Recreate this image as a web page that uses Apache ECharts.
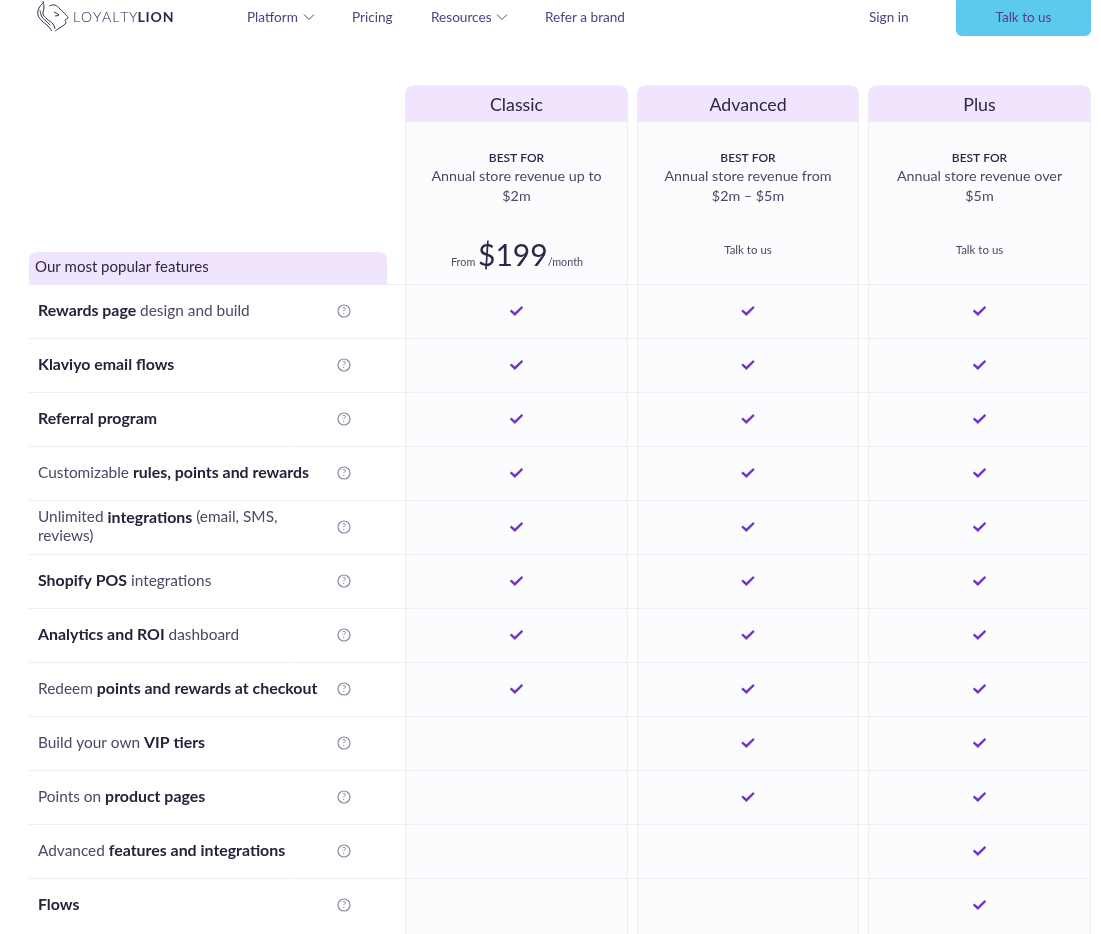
<!DOCTYPE html>
<html>
<head>
<meta charset="utf-8">
<title>LoyaltyLion pricing</title>
<style>
  html, body { margin: 0; padding: 0; background: #fff; }
  #chart { width: 1101px; height: 934px; }
</style>
<script src="https://cdn.jsdelivr.net/npm/echarts@6/dist/echarts.min.js"></script>
</head>
<body>
<div id="chart"></div>
<script>
// table content
const plans = ['Classic', 'Advanced', 'Plus'];
const bestFor = [
  'Annual store revenue up to\n$2m',
  'Annual store revenue from\n$2m – $5m',
  'Annual store revenue over\n$5m'
];
const features = [
  '{b|Rewards page}{r| design and build}',
  '{b|Klaviyo email flows}',
  '{b|Referral program}',
  '{r|Customizable }{b|rules, points and rewards}',
  '{r|Unlimited }{b|integrations}{r| (email, SMS,}\n{r|reviews)}',
  '{b|Shopify POS}{r| integrations}',
  '{b|Analytics and ROI}{r| dashboard}',
  '{r|Redeem }{b|points and rewards at checkout}',
  '{r|Build your own }{b|VIP tiers}',
  '{r|Points on }{b|product pages}',
  '{r|Advanced }{b|features and integrations}',
  '{b|Flows}'
];
const classicHas  = [1, 1, 1, 1, 1, 1, 1, 1, 0, 0, 0, 0];
const advancedHas = [1, 1, 1, 1, 1, 1, 1, 1, 1, 1, 0, 0];
const plusHas     = [1, 1, 1, 1, 1, 1, 1, 1, 1, 1, 1, 1];
const navItems = [['Platform', 247], ['Pricing', 352], ['Resources', 431], ['Refer a brand', 545], ['Sign in', 869]];
const navChevrons = [309, 502];

const FONT = 'Lato';
const TOP = 284, ROW = 54;
const COL_LEFT = [405.5, 637.5, 868.5], COL_W = [222, 221, 222];
const ink = '#2b2746', soft = '#4c4866', line = '#eceef2', lilac = '#f1e4fd', panel = '#fbfcfe';

const colCenter = i => COL_LEFT[i] + COL_W[i] / 2;

// one point per ticked cell
const checks = [];
[classicHas, advancedHas, plusHas].forEach((has, c) => {
  has.forEach((v, r) => { if (v) checks.push([c, r]); });
});

const graphics = [];

// plan columns
plans.forEach((p, i) => {
  graphics.push({
    type: 'rect', z: -10,
    shape: { x: COL_LEFT[i], y: 86, width: COL_W[i], height: 860, r: 8 },
    style: { fill: panel, stroke: line, lineWidth: 1 }
  });
  graphics.push({
    type: 'rect', z: -9,
    shape: { x: COL_LEFT[i], y: 85.5, width: COL_W[i], height: 36.5, r: [8, 8, 0, 0] },
    style: { fill: lilac }
  });
  graphics.push({
    type: 'text', z: 5, x: colCenter(i), y: 158,
    style: { text: 'BEST FOR', font: '600 12px ' + FONT, fill: ink, align: 'center', verticalAlign: 'middle' }
  });
  graphics.push({
    type: 'text', z: 5, x: colCenter(i), y: 186,
    style: { text: bestFor[i], font: '14.3px ' + FONT, fill: soft, align: 'center', verticalAlign: 'middle', lineHeight: 20 }
  });
  if (i > 0) {
    graphics.push({
      type: 'text', z: 5, x: colCenter(i), y: 250,
      style: { text: 'Talk to us', font: '11.5px ' + FONT, fill: soft, align: 'center', verticalAlign: 'middle' }
    });
  }
});

// price
graphics.push({
  type: 'text', z: 5, x: colCenter(0) + 0.5, y: 256,
  style: {
    text: '{s|From }{p|$199}{s|/month}',
    align: 'center', verticalAlign: 'middle',
    rich: {
      s: { font: '10.8px ' + FONT, fill: soft, padding: [14, 0, 0, 0] },
      p: { font: '30px ' + FONT, fill: ink }
    }
  }
});

// row rules
for (let r = 0; r < features.length; r++) {
  graphics.push({
    type: 'line', z: -5,
    shape: { x1: 29, y1: TOP + r * ROW + 0.5, x2: 1090.5, y2: TOP + r * ROW + 0.5 },
    style: { stroke: line, lineWidth: 1 }
  });
}

// left tab
graphics.push({
  type: 'rect', z: -4,
  shape: { x: 29, y: 252, width: 358, height: 32.5, r: [8, 8, 0, 0] },
  style: { fill: lilac }
});
graphics.push({
  type: 'text', z: 5, x: 35, y: 267,
  style: { text: 'Our most popular features', font: '15px ' + FONT, fill: ink, verticalAlign: 'middle' }
});

// top nav
navItems.forEach(n => {
  graphics.push({
    type: 'text', x: n[1], y: 17.5,
    style: { text: n[0], font: '13.6px ' + FONT, fill: '#55417f', verticalAlign: 'middle' }
  });
});
navChevrons.forEach(x => {
  graphics.push({
    type: 'polyline',
    shape: { points: [[x - 5, 14.5], [x, 19.5], [x + 5, 14.5]] },
    style: { stroke: '#55417f', lineWidth: 1, fill: null }
  });
});
graphics.push({
  type: 'rect',
  shape: { x: 956, y: -4, width: 135, height: 40, r: 6 },
  style: { fill: '#5bcaec' }
});
graphics.push({
  type: 'text', x: 1023.5, y: 17.5,
  style: { text: 'Talk to us', font: '13.5px ' + FONT, fill: '#5b3a8e', align: 'center', verticalAlign: 'middle' }
});

// logo, rough strokes
[
  [[44, 2], [39, 8], [38, 15], [42, 21], [47, 25], [52, 31]],
  [[43, 1], [44, 8], [43, 14], [47, 19], [53, 24], [55, 29]],
  [[40, 10], [42, 17], [46, 21], [50, 25]],
  [[49, 6], [55, 5], [60, 9], [66, 15], [68, 18], [65, 20], [66, 23], [61, 27], [55, 31]],
  [[54, 12], [59, 15], [55, 16]]
].forEach(pts => {
  graphics.push({
    type: 'polyline',
    shape: { points: pts, smooth: 0.4 },
    style: { stroke: '#2e2a4d', lineWidth: 1, fill: null }
  });
});
graphics.push({
  type: 'text', x: 73, y: 17,
  style: {
    text: '{a|L\u200aO\u200aY\u200aA\u200aL\u200aT\u200aY}{b|L\u200aI\u200aO\u200aN}',
    verticalAlign: 'middle',
    rich: {
      a: { font: '300 14px ' + FONT, fill: '#2e2a4d' },
      b: { font: '700 14px ' + FONT, fill: '#2e2a4d' }
    }
  }
});

const chart = echarts.init(document.getElementById('chart'), null, { renderer: 'canvas' });
chart.setOption({
  animation: false,
  backgroundColor: '#fff',
  grid: [
    { left: 400.75, top: TOP, width: 694.5, height: ROW * features.length },
    { left: 338, top: TOP, width: 12, height: ROW * features.length }
  ],
  xAxis: [
    {
      type: 'category', gridIndex: 0, position: 'top', data: plans,
      axisLine: { show: false }, axisTick: { show: false }, splitLine: { show: false },
      axisLabel: { interval: 0, margin: 179, color: ink, fontFamily: FONT, fontSize: 17.8, verticalAlign: 'middle' }
    },
    { type: 'category', gridIndex: 1, data: ['help'], show: false }
  ],
  yAxis: [
    {
      type: 'category', gridIndex: 0, inverse: true, data: features,
      axisLine: { show: false }, axisTick: { show: false }, splitLine: { show: false },
      axisLabel: {
        interval: 0, margin: 362.75, align: 'left',
        formatter: v => v,
        rich: {
          r: { fontFamily: FONT, fontSize: 15.4, color: soft, lineHeight: 19 },
          b: { fontFamily: FONT, fontSize: 15.9, fontWeight: 700, color: '#25223a', lineHeight: 19 }
        }
      }
    },
    { type: 'category', gridIndex: 1, inverse: true, data: features, show: false }
  ],
  series: [
    {
      type: 'scatter', xAxisIndex: 0, yAxisIndex: 0, data: checks,
      symbol: 'path://M0 5.2 L1.5 3.4 L5 6.4 L11.8 0 L13.3 1.7 L5 10 Z',
      symbolSize: [13.3, 10],
      itemStyle: { color: '#6f35c8', opacity: 1 }
    },
    {
      type: 'scatter', xAxisIndex: 1, yAxisIndex: 1,
      data: features.map((f, r) => [0, r]),
      symbol: 'circle', symbolSize: 12,
      itemStyle: { color: '#fff', borderColor: '#8d88a4', borderWidth: 1.2, opacity: 1 },
      label: { show: true, position: 'inside', formatter: '?', fontFamily: FONT, fontSize: 9, color: '#8d88a4' }
    }
  ],
  graphic: { elements: graphics }
});
</script>
</body>
</html>
